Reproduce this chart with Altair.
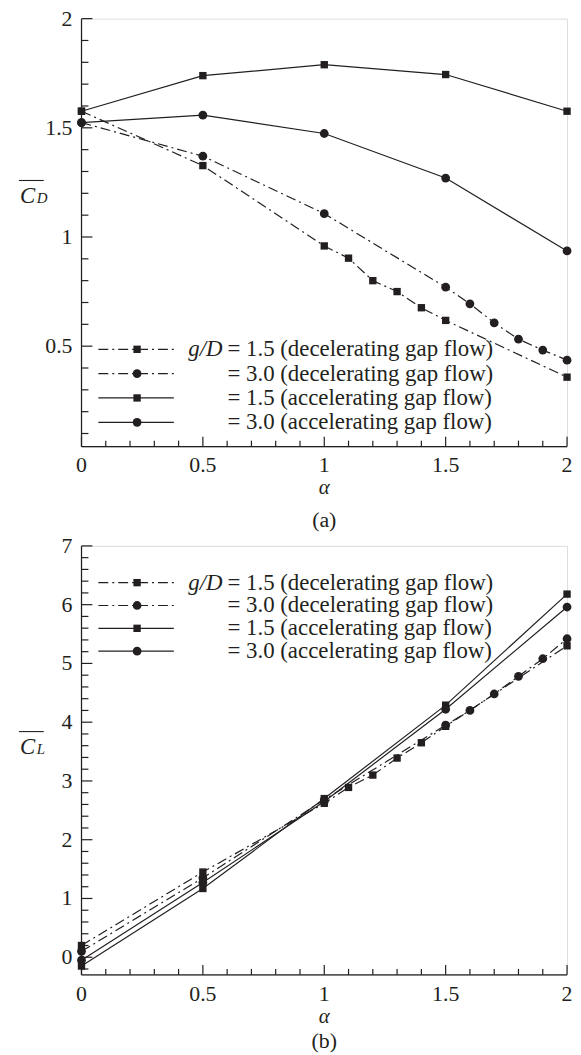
import altair as alt
import pandas as pd

FONT = "Liberation Serif"
INK = "#231f20"

# ---------------- data ----------------
# Panel (a): mean drag coefficient
A_X_COARSE = [0, 0.5, 1, 1.5, 2]
A_X_DEC15 = [0, 0.5, 1, 1.1, 1.2, 1.3, 1.4, 1.5, 2]
A_X_DEC30 = [0, 0.5, 1, 1.5, 1.6, 1.7, 1.8, 1.9, 2]
A_DEC15 = [1.576, 1.327, 0.959, 0.903, 0.80, 0.75, 0.676, 0.618, 0.358]
A_DEC30 = [1.524, 1.370, 1.107, 0.770, 0.694, 0.607, 0.532, 0.482, 0.436]
A_ACC15 = [1.576, 1.739, 1.789, 1.744, 1.576]
A_ACC30 = [1.524, 1.558, 1.474, 1.270, 0.936]

# Panel (b): mean lift coefficient
B_X_COARSE = [0, 0.5, 1, 1.5, 2]
B_X_DEC15 = [0, 0.5, 1, 1.1, 1.2, 1.3, 1.4, 1.5, 2]
B_X_DEC30 = [0, 0.5, 1, 1.5, 1.6, 1.7, 1.8, 1.9, 2]
B_DEC15 = [0.20, 1.45, 2.62, 2.89, 3.10, 3.39, 3.65, 3.93, 5.30]
B_DEC30 = [0.10, 1.35, 2.68, 3.95, 4.20, 4.48, 4.78, 5.08, 5.42]
B_ACC15 = [-0.15, 1.17, 2.70, 4.29, 6.18]
B_ACC30 = [-0.05, 1.27, 2.65, 4.22, 5.96]

X_MAJOR = [0, 0.5, 1, 1.5, 2]
X_LABELS = ["0", "0.5", "1", "1.5", "2"]
X_MINOR = [0.1, 0.2, 0.3, 0.4, 0.6, 0.7, 0.8, 0.9, 1.1, 1.2, 1.3, 1.4, 1.6, 1.7, 1.8, 1.9]
A_Y_MAJOR = [0.5, 1, 1.5, 2]
A_Y_LABELS = ["0.5", "1", "1.5", "2"]
A_Y_MINOR = [0.1, 0.2, 0.3, 0.4, 0.6, 0.7, 0.8, 0.9, 1.1, 1.2, 1.3, 1.4, 1.6, 1.7, 1.8, 1.9]
B_Y_MAJOR = [0, 1, 2, 3, 4, 5, 6, 7]
B_Y_LABELS = ["0", "1", "2", "3", "4", "5", "6", "7"]
B_Y_MINOR = [-0.2] + [round(i + f, 1) for i in range(0, 7) for f in (0.2, 0.4, 0.6, 0.8)]

LEGEND_LABELS = [
    "= 1.5 (decelerating gap flow)",
    "= 3.0 (decelerating gap flow)",
    "= 1.5 (accelerating gap flow)",
    "= 3.0 (accelerating gap flow)",
]

DASH = [10, 4, 2, 4]
STYLES = [  # (dash, shape, size) for dec1.5, dec3.0, acc1.5, acc3.0
    (DASH, "square", 55),
    (DASH, "circle", 78),
    (None, "square", 55),
    (None, "circle", 78),
]

W = 489


def panel(series, ydom, ymajor, ylabels, yminor, sub, tag, legend_top, legend_step,
          H, title_base, tag_off):
    xs = alt.Scale(domain=[0, 2], nice=False, zero=False)
    ys = alt.Scale(domain=ydom, nice=False, zero=False)

    def X(field):
        return alt.X(f"{field}:Q", scale=xs, axis=None)

    def Y(field):
        return alt.Y(f"{field}:Q", scale=ys, axis=None)

    layers = []
    for (xv, yv), (dash, shape, size) in zip(series, STYLES):
        df = pd.DataFrame({"alpha": xv, "c": yv})
        lk = dict(color=INK, strokeWidth=1.2)
        if dash:
            lk["strokeDash"] = dash
        layers.append(alt.Chart(df).mark_line(**lk).encode(x=X("alpha"), y=Y("c")))
        layers.append(alt.Chart(df).mark_point(shape=shape, filled=True, size=size,
                                               color=INK, opacity=1).encode(
            x=X("alpha"), y=Y("c")))

    # axis lines (left and bottom only)
    one = pd.DataFrame({"k": [0]})
    layers.append(alt.Chart(one).mark_rule(color=INK, strokeWidth=1.2).encode(
        x=alt.value(0), x2=alt.value(W), y=alt.value(H)))
    layers.append(alt.Chart(one).mark_rule(color=INK, strokeWidth=1.2).encode(
        x=alt.value(0), y=alt.value(0), y2=alt.value(H)))

    # inward ticks
    for vals, ln in ((X_MAJOR, 10), (X_MINOR, 6)):
        layers.append(alt.Chart(pd.DataFrame({"v": vals})).mark_rule(
            color=INK, strokeWidth=1.2).encode(
            x=X("v"), y=alt.value(H), y2=alt.value(H - ln)))
    for vals, ln in ((ymajor, 11), (yminor, 7)):
        layers.append(alt.Chart(pd.DataFrame({"v": vals})).mark_rule(
            color=INK, strokeWidth=1.2).encode(
            y=Y("v"), x=alt.value(0), x2=alt.value(ln)))

    # tick labels
    layers.append(alt.Chart(pd.DataFrame({"v": X_MAJOR, "t": X_LABELS})).mark_text(
        font=FONT, fontSize=22, color=INK, align="center", baseline="middle").encode(
        x=X("v"), y=alt.value(H + 19), text="t:N"))
    layers.append(alt.Chart(pd.DataFrame({"v": ymajor, "t": ylabels})).mark_text(
        font=FONT, fontSize=22, color=INK, align="right", baseline="middle").encode(
        y=Y("v"), x=alt.value(-9), text="t:N"))

    # legend
    for i, (lab, (dash, shape, size)) in enumerate(zip(LEGEND_LABELS, STYLES)):
        yy = legend_top + i * legend_step
        row = pd.DataFrame({"t": [lab]})
        rk = dict(color=INK, strokeWidth=1.2)
        if dash:
            rk["strokeDash"] = dash
        layers.append(alt.Chart(row).mark_rule(**rk).encode(
            x=alt.value(17), x2=alt.value(93), y=alt.value(yy)))
        layers.append(alt.Chart(row).mark_point(shape=shape, filled=True, size=size,
                                                color=INK, opacity=1).encode(
            x=alt.value(56), y=alt.value(yy)))
        layers.append(alt.Chart(row).mark_text(font=FONT, fontSize=23, color=INK,
                                               align="left", baseline="middle").encode(
            x=alt.value(147), y=alt.value(yy), text="t:N"))
        if i == 0:
            layers.append(alt.Chart(pd.DataFrame({"t": ["g/D"]})).mark_text(
                font=FONT, fontSize=23, fontStyle="italic", color=INK,
                align="right", baseline="middle").encode(
                x=alt.value(142), y=alt.value(yy), text="t:N"))

    # y title: overlined C with subscript
    for t, xx, fs in (("C", -62, 23), (sub, -45, 15)):
        layers.append(alt.Chart(pd.DataFrame({"t": [t]})).mark_text(
            font=FONT, fontSize=fs, fontStyle="italic", color=INK, align="left",
            baseline="alphabetic").encode(x=alt.value(xx), y=alt.value(title_base),
                                          text="t:N"))
    layers.append(alt.Chart(one).mark_rule(color=INK, strokeWidth=1.1).encode(
        x=alt.value(-63), x2=alt.value(-38), y=alt.value(title_base - 23)))

    # x title and panel tag
    layers.append(alt.Chart(pd.DataFrame({"t": ["α"]})).mark_text(
        font=FONT, fontSize=21, fontStyle="italic", color=INK, align="center",
        baseline="middle").encode(x=alt.value(W / 2), y=alt.value(H + 42), text="t:N"))
    layers.append(alt.Chart(pd.DataFrame({"t": [tag]})).mark_text(
        font=FONT, fontSize=22, color=INK, align="center",
        baseline="middle").encode(x=alt.value(W / 2), y=alt.value(H + tag_off),
                                  text="t:N"))

    return alt.layer(*layers).properties(width=W, height=H)


pa = panel(
    [(A_X_DEC15, A_DEC15), (A_X_DEC30, A_DEC30), (A_X_COARSE, A_ACC15), (A_X_COARSE, A_ACC30)],
    [0.04, 2], A_Y_MAJOR, A_Y_LABELS, A_Y_MINOR, "D", "(a)", 333, 24.5, 431, 186, 74)
pb = panel(
    [(B_X_DEC15, B_DEC15), (B_X_DEC30, B_DEC30), (B_X_COARSE, B_ACC15), (B_X_COARSE, B_ACC30)],
    [-0.3, 7], B_Y_MAJOR, B_Y_LABELS, B_Y_MINOR, "L", "(b)", 37, 23, 432, 210, 67)

chart = alt.vconcat(pa, pb, spacing=2).properties(
    padding={"left": 9, "top": -5, "right": 0, "bottom": 0}
).configure_view(stroke=None).configure(background="white")

chart.save("out.html", embed_options={"renderer": "svg", "actions": False})
